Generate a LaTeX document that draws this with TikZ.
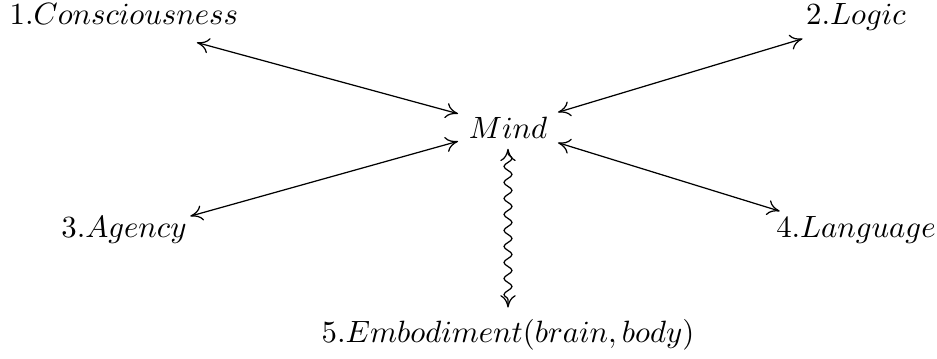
\documentclass[tikz,border=0pt]{standalone}
\usepackage{tikz}
\usetikzlibrary{arrows.meta}
\usetikzlibrary{decorations.pathmorphing}
\usepackage{amsmath}

\begin{document}
\begin{tikzpicture}[x=0.3247pt, y=-0.3247pt,
	>={Computer Modern Rightarrow[length=4pt, width=5pt]},
	topic/.style={anchor=base, text height=7pt, text depth=5.5pt, inner xsep=1pt, inner ysep=0pt},
	hub/.style={anchor=base, inner sep=3.3pt},
	link/.style={<->, thin},
	squiggle/.style={<->, thin, decorate,
		decoration={snake, amplitude=1.3pt, segment length=5.2pt, pre length=1.5pt, post length=1.5pt}}]

		\def\colL{124} \def\colM{508} \def\colR{856} % column centres
		\def\rowA{25} \def\rowB{138} \def\rowC{237} \def\rowD{342} % baselines

		\useasboundingbox (0,0) rectangle (937,358);

		% Centre
		\node[hub] (mind) at (\colM,\rowB) {$Mind$};

		% Topics around it
		\node[topic] (consc) at (\colL,\rowA) {$1.Consciousness$};
		\node[topic] (logic) at (\colR,\rowA) {$2.Logic$};
		\node[topic] (agency) at (\colL,\rowC) {$3.Agency$};
		\node[topic, inner ysep=1.2pt] (lang) at (\colR,\rowC) {$4.Language$};
		\node[topic, inner ysep=4pt] (embod) at (\colM,\rowD) {$5.Embodiment(brain,body)$};

		% Links
		\draw[link] (consc) -- (mind);
		\draw[link] (mind) -- (logic);
		\draw[link] (agency) -- (mind);
		\draw[link] (mind) -- (lang);
		\draw[squiggle] (mind) -- (embod);

	\end{tikzpicture}
\end{document}
